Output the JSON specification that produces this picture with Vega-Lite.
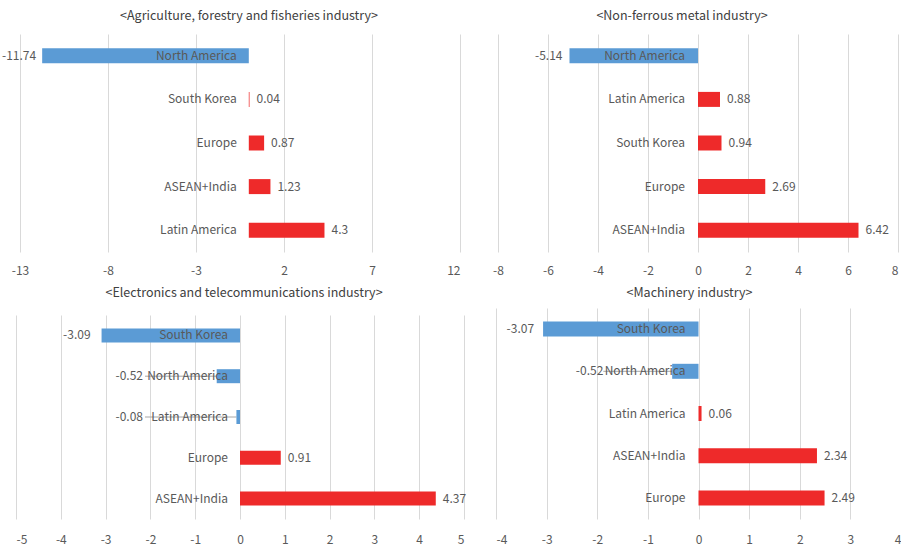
{
  "$schema": "https://vega.github.io/schema/vega-lite/v6.json",
  "background": "white",
  "padding": {"left": 2, "top": 9, "right": 0, "bottom": 0},
  "autosize": {"type": "pad"},
  "config": {
    "font": "Noto Sans CJK KR",
    "view": {"stroke": null},
    "axis": {"domain": false, "ticks": false, "grid": true, "gridColor": "#D9D9D9", "gridWidth": 1, "labelColor": "#595959", "labelFontSize": 12, "labelPadding": 13, "labelFont": "Noto Sans CJK KR"},
    "text": {"color": "#595959", "fontSize": 12, "baseline": "middle", "font": "Noto Sans CJK KR"},
    "title": {"fontSize": 12.5, "fontWeight": "normal", "color": "#404040", "baseline": "alphabetic", "font": "Noto Sans CJK KR"}
  },
  "datasets": {
    "rows": [
      {"industry": "agri", "region": "North America", "value": -11.74},
      {"industry": "agri", "region": "South Korea", "value": 0.04},
      {"industry": "agri", "region": "Europe", "value": 0.87},
      {"industry": "agri", "region": "ASEAN+India", "value": 1.23},
      {"industry": "agri", "region": "Latin America", "value": 4.3},
      {"industry": "metal", "region": "North America", "value": -5.14},
      {"industry": "metal", "region": "Latin America", "value": 0.88},
      {"industry": "metal", "region": "South Korea", "value": 0.94},
      {"industry": "metal", "region": "Europe", "value": 2.69},
      {"industry": "metal", "region": "ASEAN+India", "value": 6.42},
      {"industry": "elec", "region": "South Korea", "value": -3.09},
      {"industry": "elec", "region": "North America", "value": -0.52},
      {"industry": "elec", "region": "Latin America", "value": -0.08},
      {"industry": "elec", "region": "Europe", "value": 0.91},
      {"industry": "elec", "region": "ASEAN+India", "value": 4.37},
      {"industry": "mach", "region": "South Korea", "value": -3.07},
      {"industry": "mach", "region": "North America", "value": -0.52},
      {"industry": "mach", "region": "Latin America", "value": 0.06},
      {"industry": "mach", "region": "ASEAN+India", "value": 2.34},
      {"industry": "mach", "region": "Europe", "value": 2.49}
    ]
  },
  "spacing": 25,
  "hconcat": [
    {
      "bounds": "flush",
      "spacing": 63,
      "vconcat": [
        {
          "data": {"name": "rows"},
          "width": 444,
          "height": 218,
          "title": {"text": "<Agriculture, forestry and fisheries industry>", "offset": 12, "dx": 11},
          "transform": [{"filter": "datum.industry === 'agri'"}],
          "encoding": {
            "y": {"field": "region", "type": "nominal", "sort": ["North America", "South Korea", "Europe", "ASEAN+India", "Latin America"], "axis": null, "scale": {"paddingInner": 0, "paddingOuter": 0}}
          },
          "layer": [
            {
              "mark": {"type": "bar", "size": 15},
              "encoding": {
                "x": {"field": "value", "type": "quantitative", "title": null, "scale": {"domain": [-13.227, 12], "nice": false, "zero": false}, "axis": {"values": [-13, -8, -3, 2, 7, 12], "labelExpr": "toString(datum.value)"}},
                "color": {"condition": {"test": "datum.value < 0", "value": "#5B9BD5"}, "value": "#EE2A2A"}
              }
            },
            {
              "mark": {"type": "text", "align": "right", "dx": -12},
              "encoding": {"x": {"datum": 0, "type": "quantitative", "title": null}, "text": {"field": "region", "type": "nominal"}}
            },
            {
              "transform": [{"filter": "datum.value >= 0"}],
              "mark": {"type": "text", "align": "left", "dx": 7},
              "encoding": {"x": {"field": "value", "type": "quantitative", "title": null}, "text": {"field": "value", "type": "nominal"}}
            },
            {
              "transform": [{"filter": "datum.value < 0"}],
              "mark": {"type": "text", "align": "right", "dx": -6},
              "encoding": {"x": {"field": "value", "type": "quantitative", "title": null}, "text": {"field": "value", "type": "nominal"}}
            }
          ]
        },
        {
          "data": {"name": "rows"},
          "width": 448,
          "height": 204,
          "title": {"text": "<Electronics and telecommunications industry>", "offset": 16, "dx": 4},
          "transform": [{"filter": "datum.industry === 'elec'"}],
          "encoding": {
            "y": {"field": "region", "type": "nominal", "sort": ["South Korea", "North America", "Latin America", "Europe", "ASEAN+India"], "axis": null, "scale": {"paddingInner": 0, "paddingOuter": 0}}
          },
          "layer": [
            {
              "transform": [{"filter": "datum.value < 0 && datum.value > -2.2"}],
              "mark": {"type": "rule", "color": "#A6A6A6", "strokeWidth": 1},
              "encoding": {"x": {"field": "value", "type": "quantitative", "title": null}, "x2": {"datum": -2.12}}
            },
            {
              "mark": {"type": "bar", "size": 14},
              "encoding": {
                "x": {"field": "value", "type": "quantitative", "title": null, "scale": {"domain": [-5, 5], "nice": false, "zero": false}, "axis": {"values": [-5, -4, -3, -2, -1, 0, 1, 2, 3, 4, 5], "labelExpr": "toString(datum.value)", "labelPadding": 15}},
                "color": {"condition": {"test": "datum.value < 0", "value": "#5B9BD5"}, "value": "#EE2A2A"}
              }
            },
            {
              "mark": {"type": "text", "align": "right", "dx": -12},
              "encoding": {"x": {"datum": 0, "type": "quantitative", "title": null}, "text": {"field": "region", "type": "nominal"}}
            },
            {
              "transform": [{"filter": "datum.value >= 0"}],
              "mark": {"type": "text", "align": "left", "dx": 7},
              "encoding": {"x": {"field": "value", "type": "quantitative", "title": null}, "text": {"field": "value", "type": "nominal"}}
            },
            {
              "transform": [{"filter": "datum.value <= -2.2"}],
              "mark": {"type": "text", "align": "right", "dx": -11},
              "encoding": {"x": {"field": "value", "type": "quantitative", "title": null}, "text": {"field": "value", "type": "nominal"}}
            },
            {
              "transform": [{"filter": "datum.value < 0 && datum.value > -2.2"}],
              "mark": {"type": "text", "align": "right", "dx": -2},
              "encoding": {"x": {"datum": -2.12, "type": "quantitative", "title": null}, "text": {"field": "value", "type": "nominal"}}
            }
          ]
        }
      ]
    },
    {
      "bounds": "flush",
      "spacing": 56,
      "vconcat": [
        {
          "data": {"name": "rows"},
          "width": 402,
          "height": 218,
          "title": {"text": "<Non-ferrous metal industry>", "offset": 12, "dx": -15},
          "transform": [{"filter": "datum.industry === 'metal'"}],
          "encoding": {
            "y": {"field": "region", "type": "nominal", "sort": ["North America", "Latin America", "South Korea", "Europe", "ASEAN+India"], "axis": null, "scale": {"paddingInner": 0, "paddingOuter": 0}}
          },
          "layer": [
            {
              "mark": {"type": "bar", "size": 15},
              "encoding": {
                "x": {"field": "value", "type": "quantitative", "title": null, "scale": {"domain": [-8.08, 8], "nice": false, "zero": false}, "axis": {"values": [-8, -6, -4, -2, 0, 2, 4, 6, 8], "labelExpr": "toString(datum.value)"}},
                "color": {"condition": {"test": "datum.value < 0", "value": "#5B9BD5"}, "value": "#EE2A2A"}
              }
            },
            {
              "mark": {"type": "text", "align": "right", "dx": -13},
              "encoding": {"x": {"datum": 0, "type": "quantitative", "title": null}, "text": {"field": "region", "type": "nominal"}}
            },
            {
              "transform": [{"filter": "datum.value >= 0"}],
              "mark": {"type": "text", "align": "left", "dx": 7},
              "encoding": {"x": {"field": "value", "type": "quantitative", "title": null}, "text": {"field": "value", "type": "nominal"}}
            },
            {
              "transform": [{"filter": "datum.value < 0"}],
              "mark": {"type": "text", "align": "right", "dx": -7},
              "encoding": {"x": {"field": "value", "type": "quantitative", "title": null}, "text": {"field": "value", "type": "nominal"}}
            }
          ]
        },
        {
          "data": {"name": "rows"},
          "width": 405,
          "height": 211,
          "title": {"text": "<Machinery industry>", "offset": 9, "dx": -9},
          "transform": [{"filter": "datum.industry === 'mach'"}],
          "encoding": {
            "y": {"field": "region", "type": "nominal", "sort": ["South Korea", "North America", "Latin America", "ASEAN+India", "Europe"], "axis": null, "scale": {"paddingInner": 0, "paddingOuter": 0}}
          },
          "layer": [
            {
              "transform": [{"filter": "datum.value < 0 && datum.value > -1.9"}],
              "mark": {"type": "rule", "color": "#A6A6A6", "strokeWidth": 1},
              "encoding": {"x": {"field": "value", "type": "quantitative", "title": null}, "x2": {"datum": -1.88}}
            },
            {
              "mark": {"type": "bar", "size": 15},
              "encoding": {
                "x": {"field": "value", "type": "quantitative", "title": null, "scale": {"domain": [-4, 4], "nice": false, "zero": false}, "axis": {"values": [-4, -3, -2, -1, 0, 1, 2, 3, 4], "labelExpr": "toString(datum.value)", "labelPadding": 15}},
                "color": {"condition": {"test": "datum.value < 0", "value": "#5B9BD5"}, "value": "#EE2A2A"}
              }
            },
            {
              "mark": {"type": "text", "align": "right", "dx": -13},
              "encoding": {"x": {"datum": 0, "type": "quantitative", "title": null}, "text": {"field": "region", "type": "nominal"}}
            },
            {
              "transform": [{"filter": "datum.value >= 0"}],
              "mark": {"type": "text", "align": "left", "dx": 7},
              "encoding": {"x": {"field": "value", "type": "quantitative", "title": null}, "text": {"field": "value", "type": "nominal"}}
            },
            {
              "transform": [{"filter": "datum.value <= -1.9"}],
              "mark": {"type": "text", "align": "right", "dx": -9},
              "encoding": {"x": {"field": "value", "type": "quantitative", "title": null}, "text": {"field": "value", "type": "nominal"}}
            },
            {
              "transform": [{"filter": "datum.value < 0 && datum.value > -1.9"}],
              "mark": {"type": "text", "align": "right", "dx": 0},
              "encoding": {"x": {"datum": -1.88, "type": "quantitative", "title": null}, "text": {"field": "value", "type": "nominal"}}
            }
          ]
        }
      ]
    }
  ]
}
